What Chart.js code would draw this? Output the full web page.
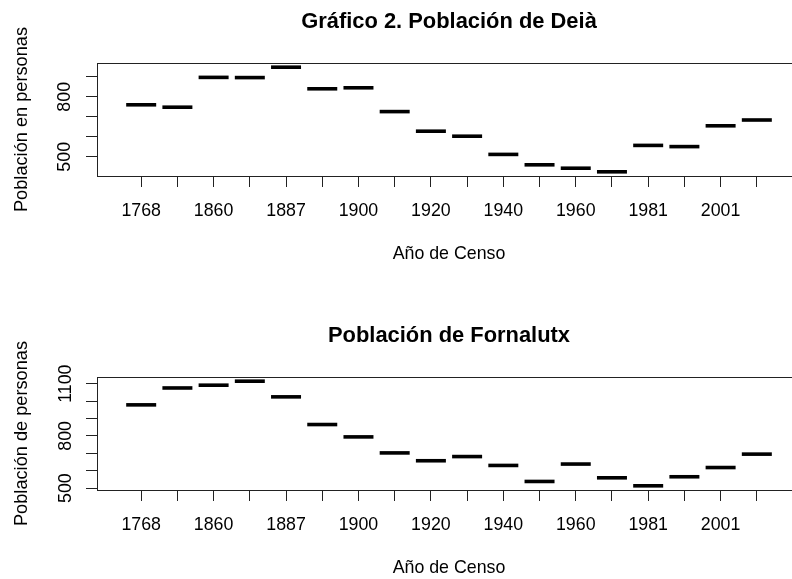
<!DOCTYPE html>
<html><head><meta charset="utf-8">
<script src="https://cdn.jsdelivr.net/npm/chart.js@4"></script>
<style>
html,body{margin:0;padding:0;background:#fff;overflow:hidden;width:792px;height:579px;}
#wrap{position:relative;width:792px;height:579px;overflow:hidden;background:#fff;}
canvas{position:absolute;left:0;}
#c1{top:0px}
#c2{top:314px}
</style></head><body>
<div id="wrap"><canvas id="c1" width="801" height="265"></canvas><canvas id="c2" width="801" height="265"></canvas></div>
<script>
const years = [1768,1857,1860,1877,1887,1897,1900,1910,1920,1930,1940,1950,1960,1970,1981,1991,2001,2011];
const deia = [760,748,897,896,948,840,845,726,628,603,512,460,443,425,557,551,655,684];
const fornalutx = [978,1075,1091,1114,1024,865,794,702,657,681,630,538,638,559,513,565,618,695];
const yTicksDeia = [500,600,700,800,900];
const yLabelsDeia = [500,800];
const yTicksFornalutx = [500,600,700,800,900,1000,1100];
const yLabelsFornalutx = [500,800,1100];
const titleDeia = 'Gráfico 2. Población de Deià';
const titleFornalutx = 'Población de Fornalutx';
const yTitleDeia = 'Población en personas';
const yTitleFornalutx = 'Población de personas';
const xTitle = 'Año de Censo';

const FONT = "'Liberation Sans', Arial, sans-serif";
const INK = '#000';
const BASE = 17.8;

const boxPlugin = {
  id: 'plotBox',
  afterDraw(chart) {
    const {ctx, chartArea: a} = chart;
    ctx.save();
    ctx.strokeStyle = '#222';
    ctx.lineWidth = 1;
    ctx.strokeRect(Math.round(a.left) + 0.5, Math.round(a.top) + 0.5,
                   Math.round(a.right - a.left), Math.round(a.bottom - a.top));
    ctx.restore();
  }
};

function makePanel(canvasId, values, yTicks, yLabels, title, yTitle, yTickPad) {
  const n = years.length;
  const xPad = 0.04 * n;
  const vmin = Math.min(...values), vmax = Math.max(...values);
  const yPad = 0.04 * (vmax - vmin);
  new Chart(document.getElementById(canvasId), {
    type: 'scatter',
    data: {
      datasets: [{
        data: values.map((v, i) => ({x: i, y: v})),
        pointStyle: 'line',
        pointRadius: 15,
        pointBorderWidth: 3.6,
        pointBorderColor: INK,
        borderColor: INK,
        showLine: false
      }]
    },
    plugins: [boxPlugin],
    options: {
      responsive: false,
      animation: false,
      events: [],
      layout: {padding: 0, autoPadding: false},
      plugins: {
        legend: {display: false},
        tooltip: {enabled: false},
        title: {
          display: true,
          text: title,
          fullSize: false,
          color: INK,
          font: {family: FONT, size: 21.9, weight: 'bold', lineHeight: 1.2},
          padding: {top: 8.7, bottom: 28.02}
        }
      },
      scales: {
        x: {
          type: 'linear',
          min: -0.5 - xPad,
          max: n - 0.5 + xPad,
          afterBuildTicks(scale) { scale.ticks = years.map((y, i) => ({value: i})); },
          afterFit(scale) { scale.height = 89; },
          grid: {drawOnChartArea: false, drawTicks: true, tickLength: 11, color: '#222', lineWidth: 1},
          border: {display: true, color: '#222', width: 1},
          ticks: {
            autoSkip: false, maxRotation: 0, minRotation: 0, padding: 13,
            color: INK, font: {family: FONT, size: BASE},
            callback: (v, i) => (i % 2 === 0 ? String(years[i]) : '')
          },
          title: {display: true, text: xTitle, color: INK, font: {family: FONT, size: BASE, lineHeight: 1.2}, padding: {top: 0, bottom: 0}}
        },
        y: {
          type: 'linear',
          min: vmin - yPad,
          max: vmax + yPad,
          afterBuildTicks(scale) { scale.ticks = yTicks.map(v => ({value: v})); },
          afterFit(scale) { scale.width = 97; },
          grid: {drawOnChartArea: false, drawTicks: true, tickLength: 11, color: '#222', lineWidth: 1},
          border: {display: true, color: '#222', width: 1},
          ticks: {
            autoSkip: false, minRotation: 90, maxRotation: 90, crossAlign: 'center', padding: yTickPad,
            color: INK, font: {family: FONT, size: BASE},
            callback: (v) => (yLabels.includes(v) ? String(v) : '')
          },
          title: {display: true, text: yTitle, color: INK, font: {family: FONT, size: 18.2, lineHeight: 1.2}, padding: {top: 11, bottom: 0}}
        }
      }
    }
  });
}

makePanel('c1', deia, yTicksDeia, yLabelsDeia, titleDeia, yTitleDeia, 6);
makePanel('c2', fornalutx, yTicksFornalutx, yLabelsFornalutx, titleFornalutx, yTitleFornalutx, 1.2);
</script>
</body></html>
